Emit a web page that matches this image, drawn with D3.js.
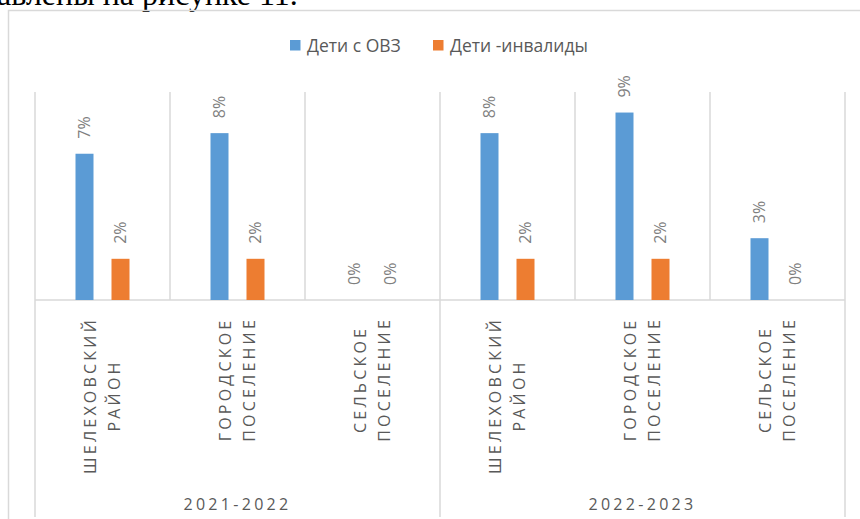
<!DOCTYPE html>
<html>
<head>
<meta charset="utf-8">
<script src="https://cdn.jsdelivr.net/npm/d3@7"></script>
<style>
  body { margin: 0; background: #fff; }
  text { font-family: "Open Sans", "Noto Sans", sans-serif; }
</style>
</head>
<body>
<svg width="860" height="519"></svg>
<script>
// periods (top level of the axis)
const periods = ["2021-2022", "2022-2023"];
// territories, repeated in every period; each line of the label is an item
const places = [["ШЕЛЕХОВСКИЙ", "РАЙОН"], ["ГОРОДСКОЕ", "ПОСЕЛЕНИЕ"], ["СЕЛЬСКОЕ", "ПОСЕЛЕНИЕ"]];
const seriesNames = ["Дети с ОВЗ", "Дети -инвалиды"];
// shares, in period order then territory order
const ovz = [0.071, 0.081, 0, 0.081, 0.091, 0.03];
const invalid = [0.02, 0.02, 0, 0.02, 0.02, 0];
const yTicks = [0, 0.1];

const colors = ["#5B9BD5", "#ED7D31"];
const grid = "#d9d9d9";
const textColor = "#595959";

var svg = d3.select("svg");

// a line of the page text above the chart, cut off at the top
svg.append("text")
  .attr("x", -3)
  .attr("y", 5)
  .style("font-family", "Liberation Serif")
  .style("font-size", "32px")
  .attr("fill", "#000")
  .text("авлены на рисунке 11.");

// chart frame (only left and top are visible)
svg.append("path")
  .attr("d", "M8.5,519V10.5H860")
  .attr("fill", "none")
  .attr("stroke", grid)
  .attr("stroke-width", 1.5);

// build the rows
var rows = [];
periods.forEach(function (p, pi) {
  places.forEach(function (pl, ci) {
    var i = pi * places.length + ci;
    rows.push({ id: i, period: p, place: pl, values: [ovz[i], invalid[i]] });
  });
});

var plotLeft = 35, plotRight = 845, plotBase = 300, plotTop = 92;

var x0 = d3.scaleBand()
  .domain(rows.map(d => d.id))
  .range([plotLeft, plotRight]);

var x1 = d3.scaleBand()
  .domain(seriesNames)
  .range([0, x0.bandwidth()])
  .paddingInner(0.5)
  .paddingOuter(1.125);

var y = d3.scaleLinear()
  .domain(d3.extent(yTicks))
  .range([plotBase, 94]);

var periodX = d3.scaleBand()
  .domain(periods)
  .range([plotLeft, plotRight]);

var g = svg.append("g");

// vertical gridlines between territories
var bounds = d3.range(rows.length + 1).map(i => plotLeft + i * x0.step());
g.selectAll(".vgrid")
  .data(bounds)
  .enter()
  .append("line")
  .attr("x1", d => d).attr("x2", d => d)
  .attr("y1", plotTop).attr("y2", plotBase)
  .attr("stroke", grid)
  .attr("stroke-width", 1.5);

// lines between periods, down through the label area
g.selectAll(".pline")
  .data(periods.map(p => periodX(p)).concat([plotRight]))
  .enter()
  .append("line")
  .attr("x1", d => d).attr("x2", d => d)
  .attr("y1", plotBase).attr("y2", 517)
  .attr("stroke", grid)
  .attr("stroke-width", 1.5);

// category axis line
g.append("line")
  .attr("x1", plotLeft).attr("x2", plotRight)
  .attr("y1", y(0)).attr("y2", y(0))
  .attr("stroke", grid)
  .attr("stroke-width", 1.5);

// bars
var groups = g.selectAll(".cat")
  .data(rows)
  .enter()
  .append("g")
  .attr("transform", d => "translate(" + x0(d.id) + ",0)");

var items = groups.selectAll(".bar")
  .data(d => d.values.map((v, i) => ({ name: seriesNames[i], value: v, i: i })))
  .enter();

items.append("rect")
  .attr("x", d => x1(d.name))
  .attr("width", x1.bandwidth())
  .attr("y", d => y(d.value))
  .attr("height", d => y(0) - y(d.value))
  .attr("fill", d => colors[d.i]);

// data labels, rotated
items.append("text")
  .attr("transform", d => "translate(" + (x1(d.name) + x1.bandwidth() / 2) + "," + (y(d.value) - 15) + ") rotate(-90)")
  .attr("dy", "0.35em")
  .attr("fill", "#7f7f7f")
  .style("font-size", "16px")
  .text(d => d3.format(".0%")(d.value));

// territory labels, rotated, two lines each
groups.each(function (d) {
  var cx = x0.bandwidth() / 2;
  var lines = d.place;
  var sel = d3.select(this);
  var texts = lines.map(function (ln) {
    return sel.append("text")
      .attr("fill", textColor)
      .style("font-size", "16px")
      .style("letter-spacing", "3.2px")
      .attr("text-anchor", "middle")
      .attr("dy", "0.35em")
      .text(ln);
  });
  var maxLen = d3.max(texts, t => t.node().getComputedTextLength());
  var cy = 317 + maxLen / 2;
  texts.forEach(function (t, li) {
    var off = (li - (lines.length - 1) / 2) * 24;
    t.attr("transform", "translate(" + (cx + off) + "," + cy + ") rotate(-90)");
  });
});

// period labels
g.selectAll(".period")
  .data(periods)
  .enter()
  .append("text")
  .attr("x", d => periodX(d) + periodX.bandwidth() / 2)
  .attr("y", 510)
  .attr("text-anchor", "middle")
  .attr("fill", textColor)
  .style("font-size", "16px")
  .style("letter-spacing", "3.3px")
  .text(d => d);

// legend
var legend = svg.append("g").attr("transform", "translate(290,40)");
var lx = [0, 143];
seriesNames.forEach(function (s, i) {
  var it = legend.append("g").attr("transform", "translate(" + lx[i] + ",0)");
  it.append("rect")
    .attr("width", 10.5).attr("height", 10.5)
    .attr("fill", colors[i]);
  it.append("text")
    .attr("x", 17)
    .attr("y", 11.5)
    .attr("fill", textColor)
    .style("font-size", "17.5px")
    .text(s);
});
</script>
</body>
</html>
